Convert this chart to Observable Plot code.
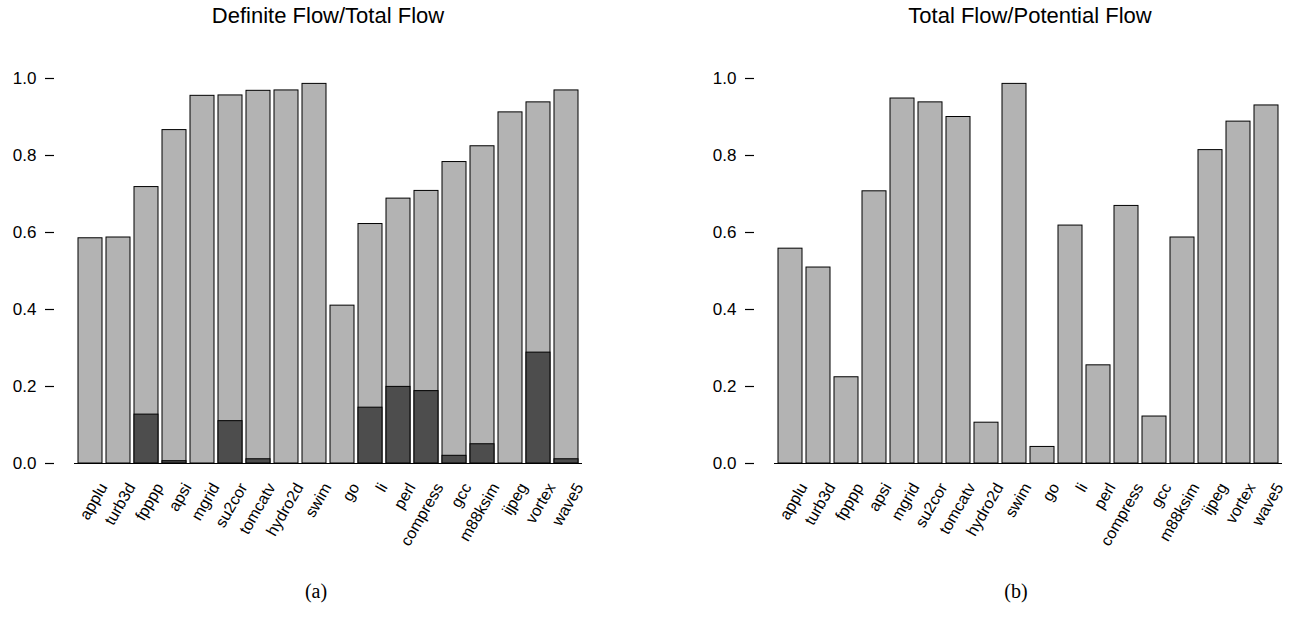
<!DOCTYPE html>
<html>
<head>
<meta charset="utf-8">
<script src="https://cdn.jsdelivr.net/npm/d3@7"></script>
<script src="https://cdn.jsdelivr.net/npm/@observablehq/plot@0.6"></script>
<style>
  html, body { margin: 0; padding: 0; background: #fff; overflow: hidden; }
  #wrap { position: relative; width: 1294px; height: 617px; }
  .panel { position: absolute; top: 0; }
  .title { position: absolute; top: 0; font-family: "Liberation Sans", Arial, sans-serif; font-size: 22px; color: #000; transform: translateX(-50%); white-space: nowrap; line-height: 28px; }
  .cap { position: absolute; font-family: "Liberation Serif", "DejaVu Serif", serif; font-size: 20px; color: #000; transform: translateX(-50%); white-space: nowrap; }
</style>
</head>
<body>
<div id="wrap"></div>
<script>
const benchmarks = ["applu","turb3d","fpppp","apsi","mgrid","su2cor","tomcatv","hydro2d","swim","go","li","perl","compress","gcc","m88ksim","ijpeg","vortex","wave5"];
// panel (a): light bars and dark (definite) bars
const panelALight = [0.585,0.587,0.718,0.866,0.955,0.956,0.968,0.969,0.986,0.410,0.622,0.688,0.708,0.783,0.824,0.912,0.938,0.969];
const panelADark  = [0,0,0.127,0.006,0,0.110,0.011,0,0,0,0.145,0.199,0.188,0.020,0.050,0,0.288,0.011];
// panel (b)
const panelB = [0.558,0.509,0.224,0.707,0.948,0.938,0.900,0.106,0.986,0.043,0.618,0.255,0.669,0.122,0.587,0.814,0.888,0.930];
const yTicks = [0, 0.2, 0.4, 0.6, 0.8, 1.0];
const titleA = "Definite Flow/Total Flow";
const titleB = "Total Flow/Potential Flow";
const capA = "(a)";
const capB = "(b)";

function panel(light, dark, width) {
  const rows = benchmarks.map((b, i) => ({b, v: light[i], d: dark ? dark[i] : 0}));
  const marks = [
    Plot.barY(rows, {x: "b", y: "v", fill: "#b3b3b3", stroke: "#000", strokeWidth: 1})
  ];
  if (dark) marks.push(Plot.barY(rows, {x: "b", y: "d", fill: "#4d4d4d", stroke: "#000", strokeWidth: 1}));
  marks.push(Plot.ruleY([0], {insetLeft: 20, insetRight: -4, stroke: "#000", strokeWidth: 1.2}));
  marks.push(Plot.axisY({ticks: yTicks, tickFormat: d => d.toFixed(1), tickSize: 9, tickPadding: 9, line: true, fontSize: 17, label: null, strokeWidth: 1.2}));
  marks.push(Plot.axisX({tickSize: 0, tickRotate: -60, tickPadding: 21, dx: 13, fontSize: 16, label: null}));
  return Plot.plot({
    width, height: 617,
    marginTop: 78, marginBottom: 154, marginLeft: 54, marginRight: width - 578,
    x: {domain: benchmarks, paddingInner: 0.143, paddingOuter: 0, insetLeft: 24},
    y: {domain: [0, 1]},
    style: {fontFamily: "'Liberation Sans', Arial, sans-serif", color: "#000", background: "transparent", overflow: "visible"},
    marks
  });
}

const wrap = document.getElementById("wrap");
const a = panel(panelALight, panelADark, 700);
a.classList.add("panel"); a.style.left = "0px";
wrap.appendChild(a);
const b = panel(panelB, null, 594);
b.classList.add("panel"); b.style.left = "700px";
wrap.appendChild(b);

function addText(cls, txt, x, y) {
  const d = document.createElement("div");
  d.className = cls; d.textContent = txt;
  d.style.left = x + "px"; d.style.top = y + "px";
  wrap.appendChild(d);
}
addText("title", titleA, 328, 2);
addText("title", titleB, 1030, 2);
addText("cap", capA, 316, 580);
addText("cap", capB, 1016, 580);
</script>
</body>
</html>
